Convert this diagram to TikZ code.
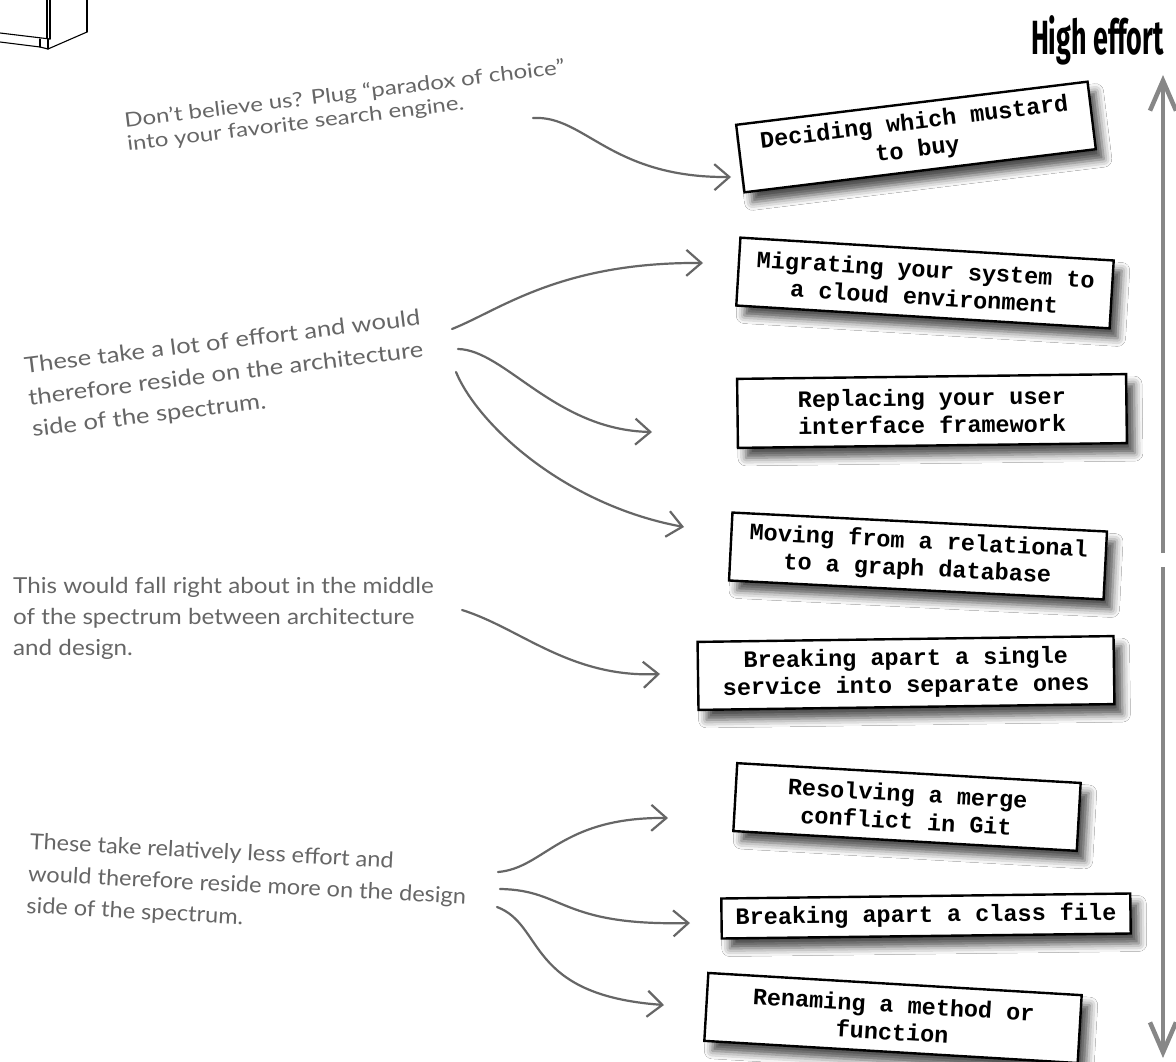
\documentclass[tikz,border=0pt]{standalone}
\usepackage{fontspec}
\newfontfamily\handfont{Lato}
\newfontfamily\cardfont{Liberation Mono}
\newfontfamily\titlefont{Fira Sans}
\usetikzlibrary{arrows.meta,shadows.blur}
\definecolor{handgrey}{HTML}{666666}
\definecolor{axisgrey}{HTML}{878787}
\newcommand{\wideline}[2]{\scalebox{#1}[1]{#2}}
\tikzset{
  card/.style={draw=black, line width=2.4pt, fill=white, inner sep=0pt, align=center,
    font=\cardfont\bfseries\fontsize{23.5}{27.5}\selectfont,
    blur shadow={shadow xshift=8pt, shadow yshift=-10pt, shadow blur radius=8pt, shadow opacity=70}},
  note/.style={text=handgrey, anchor=base west, inner sep=0pt, align=left},
  curve/.style={draw=handgrey, line width=2.2pt, line cap=round,
    -{Straight Barb[length=15pt,width=26pt,line width=2.2pt]}},
  axis/.style={draw=axisgrey, line width=4.5pt,
    -{Straight Barb[length=30pt,width=26pt,line width=4.5pt]}},
  fridge/.style={draw=black, line width=1.1pt, line cap=round}
}
\begin{document}
\begin{tikzpicture}[x=1pt,y=-1pt]
\useasboundingbox (0,0) rectangle (1176,1062);
\fill[white] (0,0) rectangle (1176,1062);

% cut-off drawing in the top-left corner
\draw[fridge] (47,0) -- (47,38);
\draw[fridge] (50,0) -- (50,39);
\draw[fridge] (87,0) -- (87,32);
\draw[fridge] (0,33) -- (50,39);
\draw[fridge] (0,42) -- (40,47) -- (48,49) -- (87,32);
\draw[fridge] (40,39) -- (40,47);
\draw[fridge] (48,39) -- (48,49);

% title
\node[font=\titlefont\bfseries\fontsize{48}{48}\selectfont, anchor=base east, inner sep=0pt] (title) at (1164,55) {\scalebox{0.56}[1]{High effort}};

% axis
\coordinate (axtop) at (1163,75);
\coordinate (axmida) at (1163,553);
\coordinate (axmidb) at (1163,567);
\coordinate (axbot) at (1163,1058);
\draw[axis] (axmida) -- (axtop);
\draw[axis] (axmidb) -- (axbot);

% cards
\node[card, minimum width=354pt, minimum height=68pt, rotate=7] (b1) at (916,137) {Deciding which mustard\\to buy};
\node[card, minimum width=374pt, minimum height=68pt, rotate=-3.5] (b2) at (925,283) {Migrating your system to\\a cloud environment};
\node[card, minimum width=389pt, minimum height=69pt, rotate=0.7] (b3) at (932,411) {Replacing your user\\interface framework};
\node[card, minimum width=375pt, minimum height=68pt, rotate=-2.9] (b4) at (918,556) {Moving from a relational\\to a graph database};
\node[card, minimum width=416pt, minimum height=68pt, rotate=0.8] (b5) at (906,673) {Breaking apart a single\\service into separate ones};
\node[card, minimum width=344pt, minimum height=68pt, rotate=-3.3] (b6) at (907,807) {Resolving a merge\\conflict in Git};
\node[card, minimum width=409pt, minimum height=40pt, rotate=0.7] (b7) at (926,916) {Breaking apart a class file};
\node[card, minimum width=374pt, minimum height=68pt, rotate=-3.4] (b8) at (893,1018) {Renaming a method or\\function};

% notes (anchored at the baseline of their last line)
\node[note, rotate=7, font=\handfont\fontsize{20}{23.5}\selectfont] (n1) at (128,151)
  {\wideline{1.2}{Don’t believe us? Plug “paradox of choice”}\\
   \wideline{1.2}{into your favorite search engine.}};

\node[note, rotate=7, font=\handfont\fontsize{22}{32}\selectfont] (n2) at (33,437)
  {\wideline{1.16}{These take a lot of effort and would}\\
   \wideline{1.16}{therefore reside on the architecture}\\
   \wideline{1.16}{side of the spectrum.}};

\node[note, font=\handfont\fontsize{22}{31}\selectfont] (n3) at (13,655)
  {\wideline{1.1}{This would fall right about in the middle}\\
   \wideline{1.1}{of the spectrum between architecture}\\
   \wideline{1.1}{and design.}};

\node[note, rotate=-3, font=\handfont\fontsize{22}{32}\selectfont] (n4) at (26,913)
  {\wideline{1.07}{These take relatively less effort and}\\
   \wideline{1.07}{would therefore reside more on the design}\\
   \wideline{1.07}{side of the spectrum.}};

% connector end points
\coordinate (s1) at (533,118);  \coordinate (t1) at (731,177);
\coordinate (s2) at (452,329);  \coordinate (t2) at (703,263);
\coordinate (s3) at (458,349);  \coordinate (t3) at (652,432);
\coordinate (s4) at (456,372);  \coordinate (t4) at (684,527);
\coordinate (s5) at (462,610);  \coordinate (t5) at (660,674);
\coordinate (s6) at (498,872);  \coordinate (t6) at (668,818);
\coordinate (s7) at (500,889);  \coordinate (t7) at (690,923);
\coordinate (s8) at (497,907);  \coordinate (t8) at (664,1005);

\draw[curve] (s1) .. controls (585,115) and (610,178) .. (t1);
\draw[curve] (s2) .. controls (500,310) and (560,262) .. (t2);
\draw[curve] (s3) .. controls (505,350) and (555,430) .. (t3);
\draw[curve] (s4) .. controls (478,425) and (565,505) .. (t4);
\draw[curve] (s5) .. controls (520,628) and (570,678) .. (t5);
\draw[curve] (s6) .. controls (545,868) and (560,817) .. (t6);
\draw[curve] (s7) .. controls (565,890) and (560,926) .. (t7);
\draw[curve] (s8) .. controls (545,925) and (525,995) .. (t8);
\end{tikzpicture}
\end{document}
